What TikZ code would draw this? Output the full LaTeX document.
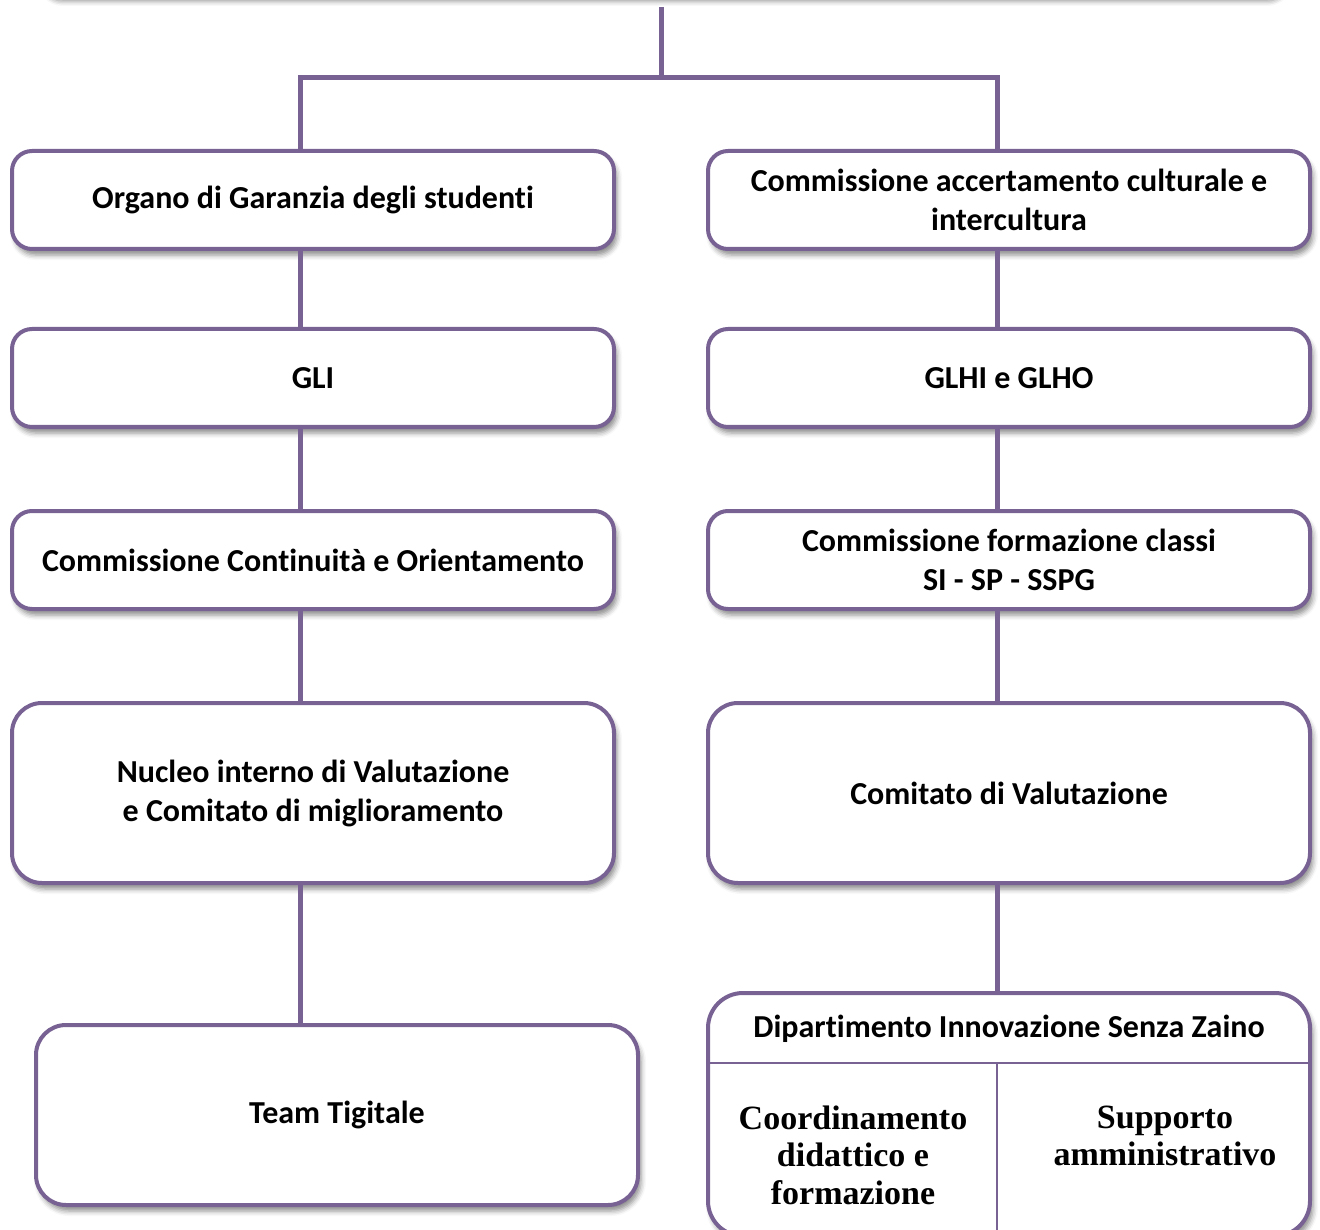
\documentclass[tikz,border=0pt]{standalone}
\usepackage{fontspec}
\setmainfont[RawFeature={-liga;-clig;-calt;-dlig}]{Carlito}
\newfontfamily\cellfont{Liberation Serif}
\usetikzlibrary{positioning, shadows.blur}
\definecolor{orgpurple}{RGB}{120,98,148}

\tikzset{
    orgbox/.style={draw=orgpurple, line width=4pt, rounded corners=20pt, fill=white,
        align=center, inner sep=0pt, minimum width=602pt, minimum height=98pt,
        font=\bfseries\fontsize{32}{39}\selectfont,
        blur shadow={shadow xshift=3pt, shadow yshift=-6pt, shadow blur radius=5pt, shadow opacity=45}},
    bigbox/.style={orgbox, minimum height=180pt, rounded corners=30pt},
    orgline/.style={draw=orgpurple, line width=5pt},
    cellline/.style={draw=orgpurple, line width=2.5pt},
    celltext/.style={align=center, font=\cellfont\bfseries\fontsize{34}{37.5}\selectfont}
}

\begin{document}
\begin{tikzpicture}[x=1pt, y=-1pt]
    \useasboundingbox (0,0) rectangle (1320,1230);

    % Define nodes
    \node[orgbox, minimum width=1245pt, minimum height=60pt, anchor=south] (top) at (662,-3) {};

    \node[orgbox] (organo) at (313,200) {Organo di Garanzia degli studenti};
    \node[orgbox] (gli) at (313,378) {GLI};
    \node[orgbox] (contin) at (313,560) {Commissione Continuità e Orientamento};
    \node[bigbox] (nucleo) at (313,793) {Nucleo interno di Valutazione\\e Comitato di miglioramento};
    \node[bigbox] (team) at (337,1115) {Team Tigitale};

    \node[orgbox] (accert) at (1009,200) {Commissione accertamento culturale e\\intercultura};
    \node[orgbox] (glhi) at (1009,378) {GLHI e GLHO};
    \node[orgbox] (classi) at (1009,560) {Commissione formazione classi\\SI - SP - SSPG};
    \node[bigbox] (comitato) at (1009,793) {Comitato di Valutazione};
    \node[bigbox, minimum height=243pt, rounded corners=35pt, anchor=north] (dip) at (1009,991) {};

    \node[font=\bfseries\fontsize{32}{39}\selectfont] (diphead) at (1009,1029) {Dipartimento Innovazione Senza Zaino};
    \coordinate (split) at (997,1063);
    \node[celltext] (coord) at (853,1155) {Coordinamento\\didattico e\\formazione};
    \node[celltext] (supp) at (1165,1136) {Supporto\\amministrativo};

    % Connectors
    \coordinate (hub) at (661,78);
    \coordinate (colL) at (300,78);
    \coordinate (colR) at (997,78);
    \draw[orgline] ([yshift=-10pt]hub |- top.south) -- (hub);
    \draw[orgline] (colL |- organo.north) -- (colL) -- (colR) -- (colR |- accert.north);
    \foreach \a/\b in {organo/gli, gli/contin, contin/nucleo, nucleo/team}
        \draw[orgline] (colL |- \a.south) -- (colL |- \b.north);
    \foreach \a/\b in {accert/glhi, glhi/classi, classi/comitato, comitato/dip}
        \draw[orgline] (colR |- \a.south) -- (colR |- \b.north);

    % Cells of the last box
    \draw[cellline] ([xshift=2pt]dip.west |- split) -- ([xshift=-2pt]dip.east |- split);
    \draw[cellline] (split) -- ([yshift=2pt]split |- dip.south);
\end{tikzpicture}
\end{document}
